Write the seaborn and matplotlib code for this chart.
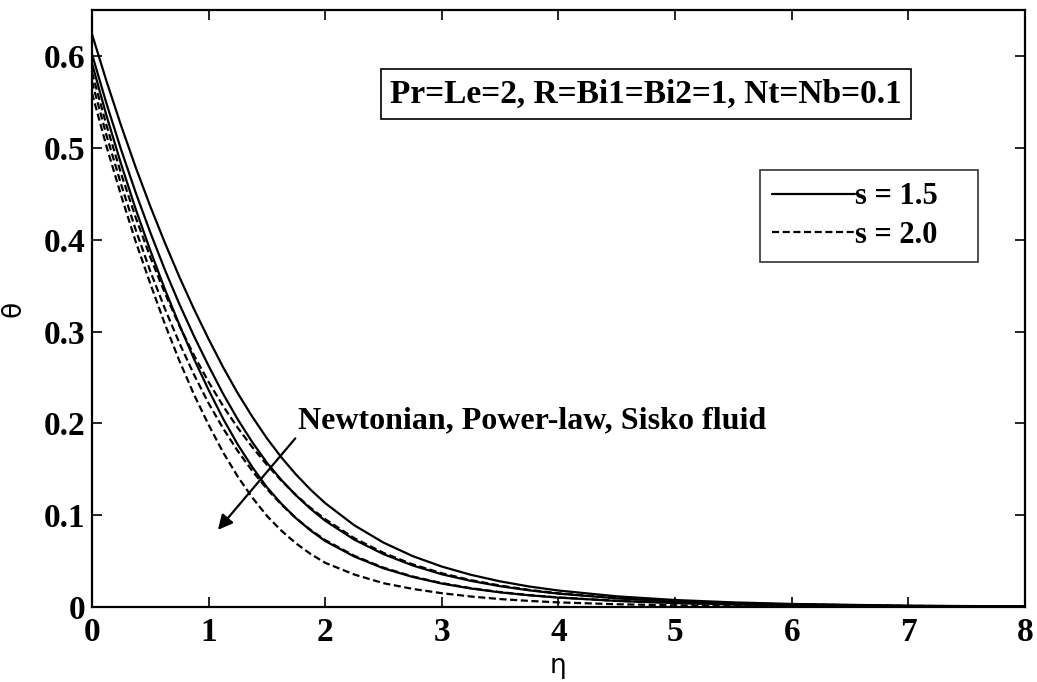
import numpy as np
import pandas as pd
import matplotlib
matplotlib.use("Agg")
import matplotlib.pyplot as plt
import seaborn as sns
from matplotlib.lines import Line2D

sns.set_theme(style="white")
plt.rcParams['font.family'] = ['Liberation Serif', 'DejaVu Serif']
for key in ["text.color", "axes.labelcolor", "xtick.color", "ytick.color", "axes.edgecolor"]:
    plt.rcParams[key] = "black"

# ---- data ----
eta = [0, 0.125, 0.25, 0.375, 0.5, 0.625, 0.75, 0.875, 1.0, 1.125, 1.25, 1.375, 1.5, 1.625, 1.75, 1.875, 2.0,
       2.25, 2.5, 2.75, 3.0, 3.25, 3.5, 3.75, 4.0, 4.5, 5.0, 5.5, 6.0, 7.0, 8.0]

# s = 1.5 (solid): Newtonian, Power-law, Sisko
newt_s15 = [0.624, 0.5725, 0.5242, 0.4788, 0.4364, 0.3967, 0.3593, 0.3244, 0.2918, 0.2610, 0.2328, 0.2072, 0.1837,
            0.1628, 0.1442, 0.1277, 0.1131, 0.0889, 0.0701, 0.0554, 0.0440, 0.0350, 0.0279, 0.0223, 0.0179,
            0.0116, 0.0076, 0.0050, 0.0033, 0.0014, 0.0006]
power_s15 = [0.6022, 0.5482, 0.4980, 0.4513, 0.4080, 0.3673, 0.3297, 0.2949, 0.2626, 0.2320, 0.2043, 0.1794, 0.1571,
             0.1382, 0.1215, 0.1068, 0.0939, 0.0733, 0.0575, 0.0452, 0.0356, 0.0284, 0.0226, 0.0181, 0.0145,
             0.0094, 0.0062, 0.0041, 0.0027, 0.0011, 0.0005]
sisko_s15 = [0.5922, 0.5350, 0.4823, 0.4333, 0.3884, 0.3461, 0.3072, 0.2701, 0.2364, 0.2049, 0.1769, 0.1523, 0.1304,
             0.1123, 0.0966, 0.0833, 0.0718, 0.0549, 0.0421, 0.0327, 0.0255, 0.0201, 0.0159, 0.0127, 0.0102,
             0.0066, 0.0043, 0.0029, 0.0019, 0.0008, 0.0003]

# s = 2.0 (dashed): Newtonian, Power-law, Sisko
newt_s20 = [0.5822, 0.5244, 0.4718, 0.4242, 0.3810, 0.3420, 0.3061, 0.2741, 0.2451, 0.2187, 0.1951, 0.1740, 0.1549,
            0.1374, 0.1218, 0.1079, 0.0956, 0.0749, 0.0589, 0.0464, 0.0367, 0.0292, 0.0233, 0.0186, 0.0149,
            0.0097, 0.0063, 0.0042, 0.0028, 0.0012, 0.0005]
power_s20 = [0.5722, 0.5135, 0.4602, 0.4108, 0.3657, 0.3249, 0.2874, 0.2530, 0.2218, 0.1944, 0.1699, 0.1481, 0.1286,
             0.1115, 0.0966, 0.0839, 0.0729, 0.0557, 0.0428, 0.0332, 0.0260, 0.0205, 0.0162, 0.0129, 0.0104,
             0.0067, 0.0044, 0.0029, 0.0019, 0.0008, 0.0003]
sisko_s20 = [0.5597, 0.5015, 0.4482, 0.3979, 0.3522, 0.3082, 0.2680, 0.2313, 0.1984, 0.1683, 0.1420, 0.1191, 0.0992,
             0.0830, 0.0692, 0.0577, 0.0481, 0.0353, 0.0259, 0.0197, 0.0150, 0.0114, 0.0086, 0.0066, 0.0050,
             0.0030, 0.0018, 0.0011, 0.0007, 0.0003, 0.0001]

x_ticks = [0, 1, 2, 3, 4, 5, 6, 7, 8]
y_ticks = [0, 0.1, 0.2, 0.3, 0.4, 0.5, 0.6]
y_tick_labels = ["0", "0.1", "0.2", "0.3", "0.4", "0.5", "0.6"]
legend_labels = ["s = 1.5", "s = 2.0"]
param_text = "Pr=Le=2, R=Bi1=Bi2=1, Nt=Nb=0.1"
arrow_text = "Newtonian, Power-law, Sisko fluid"

DASH = (3.2, 1.6)
LW = 1.6

# ---- figure ----
fig = plt.figure(figsize=(10.37, 6.82), dpi=100)
ax = fig.add_axes([0.0887, 0.110, 0.8997, 0.875])

for ys in [newt_s15, power_s15, sisko_s15]:
    sns.lineplot(x=eta, y=ys, ax=ax, color="black", lw=LW, linestyle="-")
for ys in [newt_s20, power_s20, sisko_s20]:
    sns.lineplot(x=eta, y=ys, ax=ax, color="black", lw=LW)
    ax.lines[-1].set_dashes(DASH)

ax.set_xlim(0, 8)
ax.set_ylim(0, 0.65)
ax.set_xticks(x_ticks)
ax.set_xticklabels([str(t) for t in x_ticks])
ax.set_yticks(y_ticks)
ax.set_yticklabels(y_tick_labels)
for lab in ax.get_xticklabels() + ax.get_yticklabels():
    lab.set_fontweight("bold")
    lab.set_fontsize(24)
ax.tick_params(direction="in", length=7, width=1.2, top=True, right=True,
               bottom=True, left=True, colors="black")
ax.tick_params(axis="x", pad=7)
ax.tick_params(axis="y", pad=5)
for sp in ax.spines.values():
    sp.set_color("black")
    sp.set_linewidth(1.6)

ax.set_xlabel("η", fontsize=19, family="DejaVu Sans", labelpad=4)
ax.set_ylabel("θ", fontsize=19, family="DejaVu Sans", labelpad=12)

# parameter box
ax.text(2.556, 0.559, param_text, fontsize=24, fontweight="bold", ha="left", va="center",
        bbox=dict(boxstyle="square,pad=0.28", fc="white", ec="black", lw=1.2))

# legend
handles = [Line2D([0], [0], color="black", lw=LW, linestyle="-"),
           Line2D([0], [0], color="black", lw=LW, dashes=DASH)]
leg = ax.legend(handles, legend_labels, loc="upper left",
                bbox_to_anchor=(0.716, 0.586, 0.2337, 0.146), mode="expand",
                prop=dict(family="Liberation Serif", weight="bold", size=22),
                frameon=True, fancybox=False, edgecolor="black", handlelength=2.7,
                handletextpad=0.0, borderpad=0.4, labelspacing=0.3, borderaxespad=0)
leg.get_frame().set_linewidth(1.2)

# arrow annotation
ax.annotate(arrow_text, xy=(1.08, 0.084), xytext=(1.767, 0.203),
            fontsize=23, fontweight="bold", ha="left", va="center",
            arrowprops=dict(arrowstyle="-|>", color="black", lw=1.6,
                            mutation_scale=22, shrinkA=0, shrinkB=0,
                            relpos=(0.0, 0.0)))

fig.savefig("out.png", dpi=100)
